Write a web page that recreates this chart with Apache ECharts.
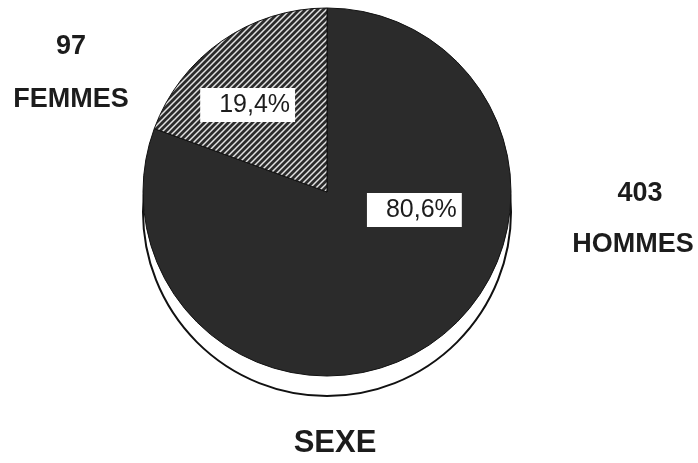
<!DOCTYPE html>
<html>
<head>
<meta charset="utf-8">
<script src="https://cdn.jsdelivr.net/npm/echarts@6/dist/echarts.min.js"></script>
<style>
  html, body { margin: 0; padding: 0; background: #fff; }
  #chart { width: 698px; height: 463px; }
</style>
</head>
<body>
<div id="chart"></div>
<script>
// Répartition par sexe
const categories = ['HOMMES', 'FEMMES'];
const counts = [403, 97];
const chartTitle = 'SEXE';

const FONT = '"Liberation Sans", Arial, Helvetica, sans-serif';
const INK = '#1c1c1c';
const DARK = '#2b2b2b';

// Diagonal white hatching on a dark ground
function hatchPattern() {
  const s = 6;
  const c = document.createElement('canvas');
  c.width = s; c.height = s;
  const g = c.getContext('2d');
  g.fillStyle = DARK;
  g.fillRect(0, 0, s, s);
  g.strokeStyle = 'rgba(236,236,236,0.95)';
  g.lineWidth = 1.5;
  g.beginPath();
  g.moveTo(0, s); g.lineTo(s, 0);
  g.moveTo(-1, 1); g.lineTo(1, -1);
  g.moveTo(s - 1, s + 1); g.lineTo(s + 1, s - 1);
  g.stroke();
  return c;
}

const cx = 327, cy = 192, R = 184;

const sliceStyles = [
  { color: DARK },
  { color: { image: hatchPattern(), repeat: 'repeat' } }
];
const labelOffsets = [[33, -60], [-25, -9]];

const data = categories.map((name, i) => ({
  name: name,
  value: counts[i],
  itemStyle: sliceStyles[i],
  label: { offset: labelOffsets[i] }
}));

// Outer captions: count above category name  [xCount, yCount, xName, yName]
const captionPos = [[640, 194, 633, 245], [71, 47, 71, 100]];
const captions = [];
categories.forEach((name, i) => {
  const [x1, y1, x2, y2] = captionPos[i];
  [[String(counts[i]), x1, y1], [name, x2, y2]].forEach(([txt, x, y]) => {
    captions.push({
      type: 'text',
      x: x, y: y,
      silent: true,
      style: {
        text: txt,
        font: 'bold 27px ' + FONT,
        fill: INK, align: 'center', verticalAlign: 'middle'
      }
    });
  });
});

const chart = echarts.init(document.getElementById('chart'), null, { renderer: 'canvas' });

chart.setOption({
  animation: false,
  backgroundColor: '#fff',
  graphic: [
    // lower rim of the disc
    {
      type: 'circle',
      shape: { cx: cx, cy: cy + 20, r: R },
      style: { fill: '#fff', stroke: '#111', lineWidth: 2 },
      silent: true
    },
    {
      type: 'text',
      x: 335, y: 443,
      silent: true,
      style: {
        text: chartTitle,
        font: 'bold 31px ' + FONT,
        fill: INK, align: 'center', verticalAlign: 'middle'
      }
    }
  ].concat(captions),
  series: [{
    type: 'pie',
    center: [cx, cy],
    radius: R,
    startAngle: 90,
    clockwise: true,
    silent: true,
    data: data,
    itemStyle: { borderColor: '#111', borderWidth: 1 },
    label: {
      show: true,
      position: 'inside',
      formatter: p => p.percent.toFixed(1).replace('.', ',') + '%',
      fontFamily: FONT,
      fontSize: 25,
      color: INK,
      backgroundColor: '#fff',
      padding: [5, 5, 4, 19]
    },
    labelLine: { show: false }
  }]
});
</script>
</body>
</html>
